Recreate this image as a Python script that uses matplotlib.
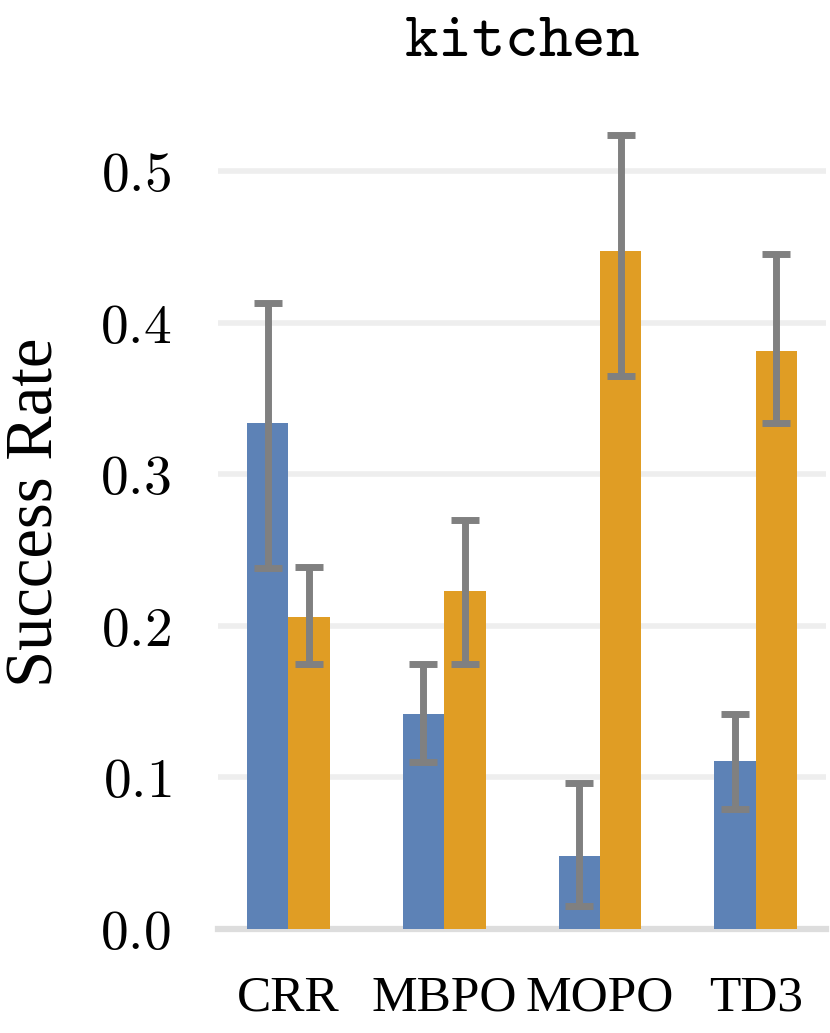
import numpy as np
import matplotlib
matplotlib.use("Agg")
import matplotlib.pyplot as plt

plt.rcParams['mathtext.fontset'] = 'cm'
plt.rcParams['font.family'] = ['Liberation Serif', 'DejaVu Serif']

# data
algos = ["CRR", "MBPO", "MOPO", "TD3"]
blue_mean = [0.334, 0.142, 0.048, 0.111]
blue_low = [0.238, 0.110, 0.015, 0.079]
blue_high = [0.413, 0.175, 0.096, 0.142]
orange_mean = [0.206, 0.223, 0.447, 0.381]
orange_low = [0.175, 0.175, 0.365, 0.334]
orange_high = [0.239, 0.270, 0.524, 0.445]
yticks = [0.0, 0.1, 0.2, 0.3, 0.4, 0.5]

blue = "#5d82b6"
orange = "#e09d24"
err_col = "#808080"

fig = plt.figure(figsize=(8.3, 10.33), dpi=100)
ax = fig.add_axes([0.263, 0.1007, 0.732, 0.807])

x = np.arange(len(algos))
w = 0.266

bm = np.array(blue_mean)
om = np.array(orange_mean)
b_err = [bm - np.array(blue_low), np.array(blue_high) - bm]
o_err = [om - np.array(orange_low), np.array(orange_high) - om]

ax.bar(x - w / 2, bm, w, color=blue, zorder=2)
ax.bar(x + w / 2, om, w, color=orange, zorder=2)
ekw = dict(fmt="none", ecolor=err_col, elinewidth=5, capsize=10, capthick=5, zorder=3)
ax.errorbar(x - w / 2, bm, yerr=b_err, **ekw)
ax.errorbar(x + w / 2, om, yerr=o_err, **ekw)

ax.set_xlim(-0.45, 3.45)
ax.set_ylim(0, 0.55)

for v in yticks[1:]:
    ax.axhline(v, color="#eeeeee", lw=4, zorder=0)

for s in ["top", "right", "left"]:
    ax.spines[s].set_visible(False)
ax.spines["bottom"].set_color("#dddddd")
ax.spines["bottom"].set_linewidth(4.5)
ax.spines["bottom"].set_zorder(1)

ax.set_yticks(yticks)
ax.set_yticklabels([f"${v:.1f}$" for v in yticks], fontsize=40)
ax.set_xticks(x)
ax.set_xticklabels(algos, fontsize=37)
ax.tick_params(axis="y", length=0, pad=34)
ax.tick_params(axis="x", length=0, pad=33)

ax.set_ylabel("Success Rate", fontsize=48, labelpad=24)
ax.set_title(r"$\mathtt{kitchen}$", fontsize=46, pad=28)

fig.savefig("out.png", dpi=100)
